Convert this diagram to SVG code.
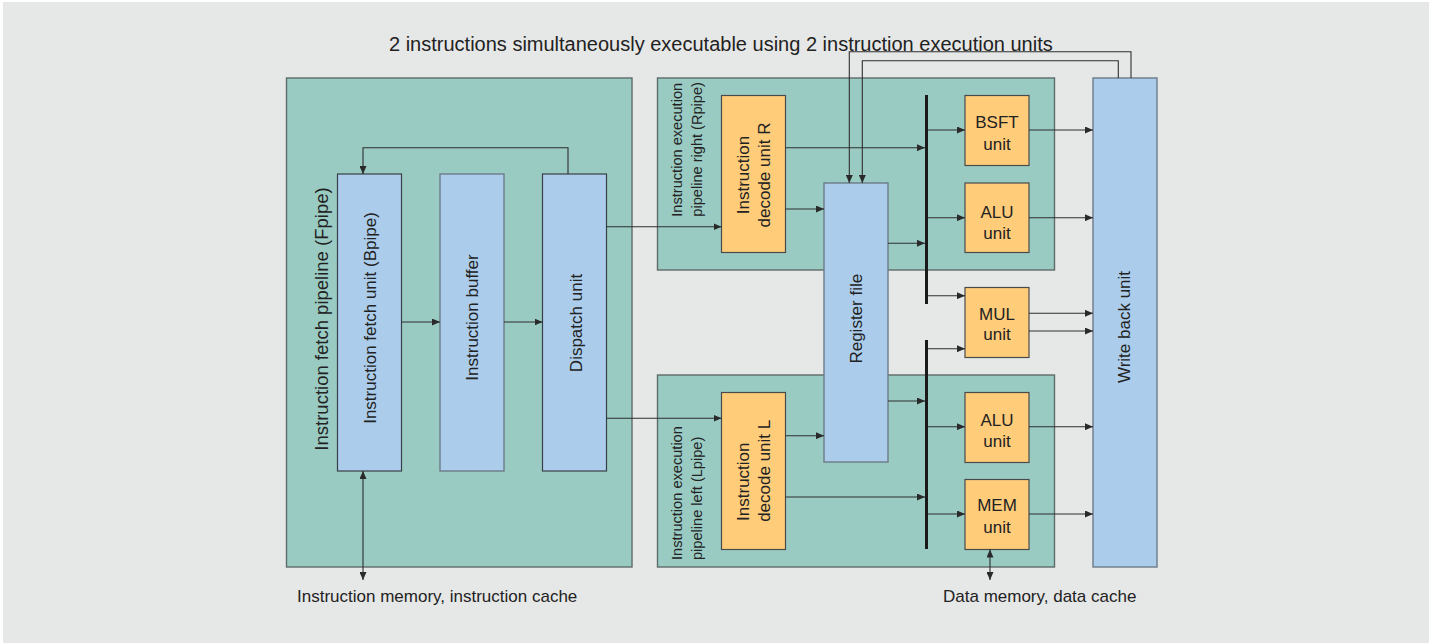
<svg xmlns="http://www.w3.org/2000/svg" width="1429" height="643" viewBox="0 0 1429 643">
<defs>
<marker id="ah" viewBox="0 0 8 7" refX="8" refY="3.5" markerWidth="8" markerHeight="7" markerUnits="userSpaceOnUse" orient="auto-start-reverse">
<path d="M0,0 L8,3.5 L0,7 Z" fill="#2a2a2a"/>
</marker>
</defs>
<style>
text{font-family:"Liberation Sans",Arial,sans-serif;fill:#222}
.pipe{fill:#99cbc3;stroke:#5f6b69;stroke-width:1.4}
.blue{fill:#abcdeb;stroke:#3a3f45;stroke-width:1.2}
.blue2{fill:#abcdeb;stroke:#6c7b88;stroke-width:1.4}
.org{fill:#ffcc7a;stroke:#4a4a4a;stroke-width:1.2}
.c{fill:none;stroke:#2e2e2e;stroke-width:1.1}
.a{marker-end:url(#ah)}
.b{marker-start:url(#ah);marker-end:url(#ah)}
.bus{fill:#1a1a1a}
.t17{font-size:17px}
.t14{font-size:14.6px}
.mid{text-anchor:middle}
</style>
<rect x="3" y="2" width="1426" height="641" fill="#e6e8e7"/>
<text x="389" y="50.5" style="font-size:20px">2 instructions simultaneously executable using 2 instruction execution units</text>

<g id="fpipe">
<rect class="pipe" x="286.5" y="78" width="345.5" height="489"/>
<text class="t17 mid" style="font-size:18.5px" transform="translate(328,319) rotate(-90)">Instruction fetch pipeline (Fpipe)</text>
</g>
<g id="rpipe">
<rect class="pipe" x="657.5" y="78" width="397" height="192"/>
<text class="t14" transform="translate(681.7,216.7) rotate(-90)">Instruction execution</text>
<text class="t14" transform="translate(701.5,216.7) rotate(-90)">pipeline right (Rpipe)</text>
</g>
<g id="lpipe">
<rect class="pipe" x="657.5" y="375" width="397" height="192"/>
<text class="t14" transform="translate(681.7,560) rotate(-90)">Instruction execution</text>
<text class="t14" transform="translate(701.5,560) rotate(-90)">pipeline left (Lpipe)</text>
</g>

<g id="fetch">
<rect class="blue" x="337.5" y="174" width="64" height="297"/>
<text class="t17 mid" transform="translate(376,318) rotate(-90)">Instruction fetch unit (Bpipe)</text>
</g>
<g id="buffer">
<rect class="blue2" x="440" y="174" width="64" height="297"/>
<text class="t17 mid" transform="translate(477.5,317.5) rotate(-90)">Instruction buffer</text>
</g>
<g id="dispatch">
<rect class="blue" x="542.5" y="174" width="64" height="297"/>
<text class="t17 mid" transform="translate(581.5,323) rotate(-90)">Dispatch unit</text>
</g>

<g id="decodeR">
<rect class="org" x="721.5" y="95.5" width="64" height="157"/>
<text class="t17 mid" transform="translate(749,175) rotate(-90)">Instruction</text>
<text class="t17 mid" transform="translate(770,175) rotate(-90)">decode unit R</text>
</g>
<g id="decodeL">
<rect class="org" x="721.5" y="392.5" width="64" height="157"/>
<text class="t17 mid" transform="translate(749,481.7) rotate(-90)">Instruction</text>
<text class="t17 mid" transform="translate(770,470.8) rotate(-90)">decode unit L</text>
</g>

<g id="regfile">
<rect class="blue2" x="824" y="183" width="64" height="279"/>
<text class="t17 mid" transform="translate(862,318.7) rotate(-90)">Register file</text>
</g>

<g id="buses">
<rect class="bus" x="925" y="95" width="3" height="209"/>
<rect class="bus" x="925" y="340" width="3" height="209"/>
</g>

<g id="bsft">
<rect class="org" x="965" y="95.5" width="64" height="70"/>
<text class="t17 mid" x="997" y="128.3">BSFT</text>
<text class="t17 mid" x="997" y="150">unit</text>
</g>
<g id="aluR">
<rect class="org" x="965" y="183" width="64" height="69.5"/>
<text class="t17 mid" x="997" y="217.5">ALU</text>
<text class="t17 mid" x="997" y="238.5">unit</text>
</g>
<g id="mul">
<rect class="org" x="965" y="287.5" width="64" height="70"/>
<text class="t17 mid" x="997" y="319.5">MUL</text>
<text class="t17 mid" x="997" y="340">unit</text>
</g>
<g id="aluL">
<rect class="org" x="965" y="392.5" width="64" height="70"/>
<text class="t17 mid" x="997" y="425.5">ALU</text>
<text class="t17 mid" x="997" y="447">unit</text>
</g>
<g id="mem">
<rect class="org" x="965" y="479.5" width="64" height="70"/>
<text class="t17 mid" x="997" y="511">MEM</text>
<text class="t17 mid" x="997" y="533">unit</text>
</g>

<g id="writeback">
<rect class="blue2" x="1093" y="78" width="64" height="489"/>
<text class="t17 mid" transform="translate(1130,327) rotate(-90)">Write back unit</text>
</g>

<g id="connectors">
<path class="c a" d="M568,174 V147.7 H363 V174"/>
<path class="c a" d="M401.5,322 H440"/>
<path class="c a" d="M504,322 H542.5"/>
<path class="c a" d="M606.5,226.7 H721.5"/>
<path class="c a" d="M606.5,418.3 H721.5"/>
<path class="c b" d="M363,471 V580"/>
<path class="c a" d="M785.5,147.7 H925"/>
<path class="c a" d="M785.5,209 H824"/>
<path class="c a" d="M888,243.3 H925"/>
<path class="c a" d="M928,130 H965"/>
<path class="c a" d="M928,217.7 H965"/>
<path class="c a" d="M928,295.7 H965"/>
<path class="c a" d="M928,348.7 H965"/>
<path class="c a" d="M888,401 H925"/>
<path class="c a" d="M928,426.7 H965"/>
<path class="c a" d="M785.5,435.7 H824"/>
<path class="c a" d="M785.5,497 H925"/>
<path class="c a" d="M928,514 H965"/>
<path class="c a" d="M1029,130 H1093"/>
<path class="c a" d="M1029,217.7 H1093"/>
<path class="c a" d="M1029,313.3 H1093"/>
<path class="c a" d="M1029,331 H1093"/>
<path class="c a" d="M1029,426.7 H1093"/>
<path class="c a" d="M1029,514 H1093"/>
<path class="c b" d="M990,549.5 V580"/>
<path class="c a" d="M1131,78 V51.7 H849.3 V183"/>
<path class="c a" d="M1118.3,78 V60.7 H862.3 V183"/>
</g>

<text class="t17" x="297" y="601.7">Instruction memory, instruction cache</text>
<text class="t17" x="943" y="601.7">Data memory, data cache</text>
</svg>
